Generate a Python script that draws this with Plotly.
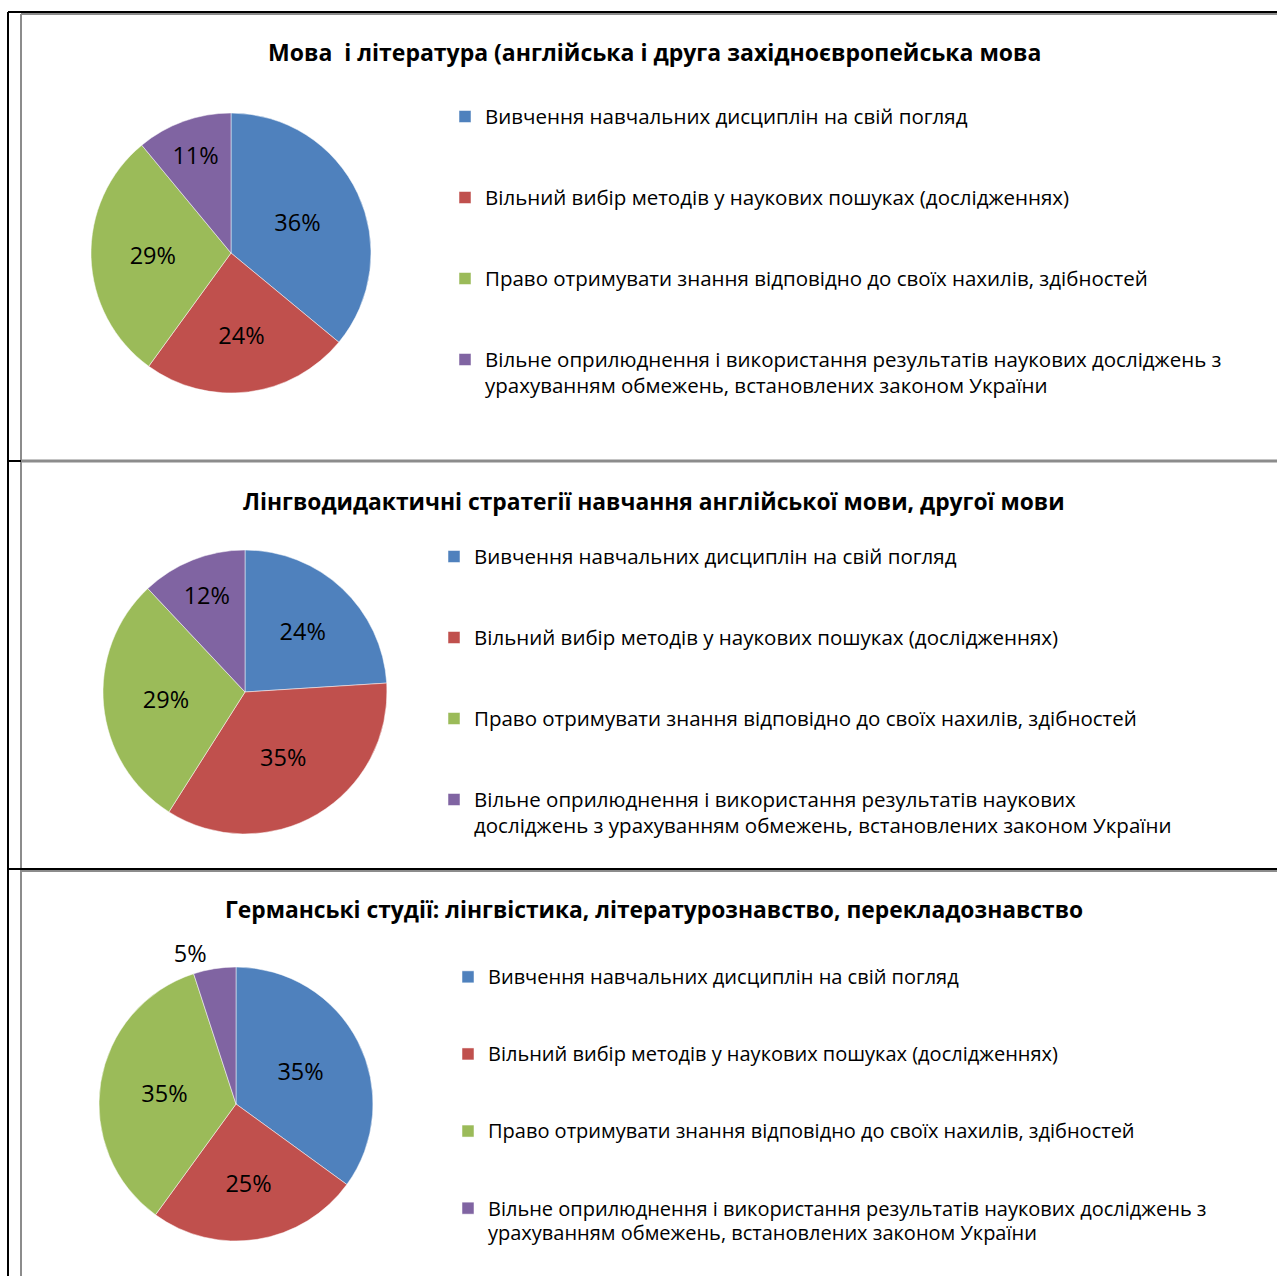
import plotly.graph_objects as go

W, H = 1277, 1276

categories = [
    "Вивчення навчальних дисциплін на свій погляд",
    "Вільний вибір методів у наукових пошуках (дослідженнях)",
    "Право отримувати знання відповідно до своїх нахилів, здібностей",
    "Вільне оприлюднення і використання результатів наукових досліджень з ураховуванням обмежень, встановлених законом України",
]
# legend wrapping of the last category, per chart
wrap_a = "Вільне оприлюднення і використання результатів наукових досліджень з<br>урахуванням обмежень, встановлених законом України"
wrap_b = "Вільне оприлюднення і використання результатів наукових<br>досліджень з урахуванням обмежень, встановлених законом України"

titles = [
    "Мова&nbsp; і література (англійська і друга західноєвропейська мова",
    "Лінгводидактичні стратегії навчання англійської мови, другої мови",
    "Германські студії: лінгвістика, літературознавство, перекладознавство",
]
values_1 = [36, 24, 29, 11]
values_2 = [24, 35, 29, 12]
values_3 = [35, 25, 35, 5]

colors = ["#4F81BD", "#C0504D", "#9BBB59", "#8064A2"]

FONT = "Open Sans"

def px_x(x):
    return x / W

def px_y(y):
    return 1 - y / H

# pie geometry in pixels: (cx, cy, r)
pies = [(231, 253, 140), (245, 692, 142), (236, 1104, 137)]
legend_pos = [(445, 97), (434, 537), (448, 958)]
legend_font = [20, 20, 19]
legend_text_px = [20.5, 20.5, 20]
title_y = [52, 501, 909]

def styled(t, size):
    return f'<span style="font-size:{size}px">{t}</span>'

def legend_labels(wrap, idx):
    # trailing spaces keep labels unique per chart so each legend lists all four
    tail = " " * (idx + 1)
    size = legend_text_px[idx]
    labs = [styled(c, size) + "<br> " * 2 + tail for c in categories[:3]]
    labs.append(styled(wrap, size) + tail)
    return labs

fig = go.Figure()
data = [(values_1, wrap_a), (values_2, wrap_b), (values_3, wrap_a)]
for i, (vals, wrap) in enumerate(data):
    cx, cy, r = pies[i]
    positions = ["inside"] * 4
    if i == 2:
        positions = ["inside", "inside", "inside", "outside"]
    fig.add_trace(go.Pie(
        labels=legend_labels(wrap, i),
        values=vals,
        sort=False,
        direction="clockwise",
        rotation=0,
        marker=dict(colors=colors, line=dict(color="white", width=0.5)),
        texttemplate="%{percent:.0%}",
        textposition=positions,
        insidetextorientation="horizontal",
        textfont=dict(family=FONT, size=23.5, color="black"),
        domain=dict(x=[px_x(cx - r), px_x(cx + r)], y=[px_y(cy + r), px_y(cy - r)]),
        hoverinfo="skip",
        legend="legend" if i == 0 else f"legend{i+1}",
        showlegend=True,
    ))

for i, (lx, ly) in enumerate(legend_pos):
    key = "legend" if i == 0 else f"legend{i+1}"
    fig.update_layout(**{key: dict(
        x=px_x(lx), y=px_y(ly),
        xanchor="left", yanchor="top", valign="top",
        font=dict(family=FONT, size=legend_font[i], color="black"),
        bgcolor="rgba(0,0,0,0)", traceorder="normal",
    )})

for i, t in enumerate(titles):
    fig.add_annotation(
        text=f"<b>{t}</b>", x=px_x(654), y=px_y(title_y[i]),
        xref="paper", yref="paper", showarrow=False,
        xanchor="center", yanchor="middle",
        font=dict(family=FONT, size=23 if i == 0 else 22.8, color="black"),
    )

def line(x0, y0, x1, y1, color, width):
    fig.add_shape(type="line", xref="paper", yref="paper",
                  x0=px_x(x0), y0=px_y(y0), x1=px_x(x1), y1=px_y(y1),
                  line=dict(color=color, width=width))

GRAY = "#8c8c8c"
# chart borders (gray)
line(21, 14, 21, 1276, GRAY, 2)
line(21, 14, 1277, 14, GRAY, 2)
line(21, 461, 1277, 461, GRAY, 3)
line(21, 871, 1277, 871, GRAY, 2)
# table lines (black)
line(8, 12, 8, 1276, "black", 2)
line(8, 12, 1277, 12, "black", 2)
line(8, 461, 21, 461, "black", 2)
line(8, 869, 1277, 869, "black", 2)

fig.update_layout(
    width=W, height=H,
    margin=dict(l=0, r=0, t=0, b=0),
    paper_bgcolor="white", plot_bgcolor="white",
    showlegend=True,
)

fig.write_html("out.html")
